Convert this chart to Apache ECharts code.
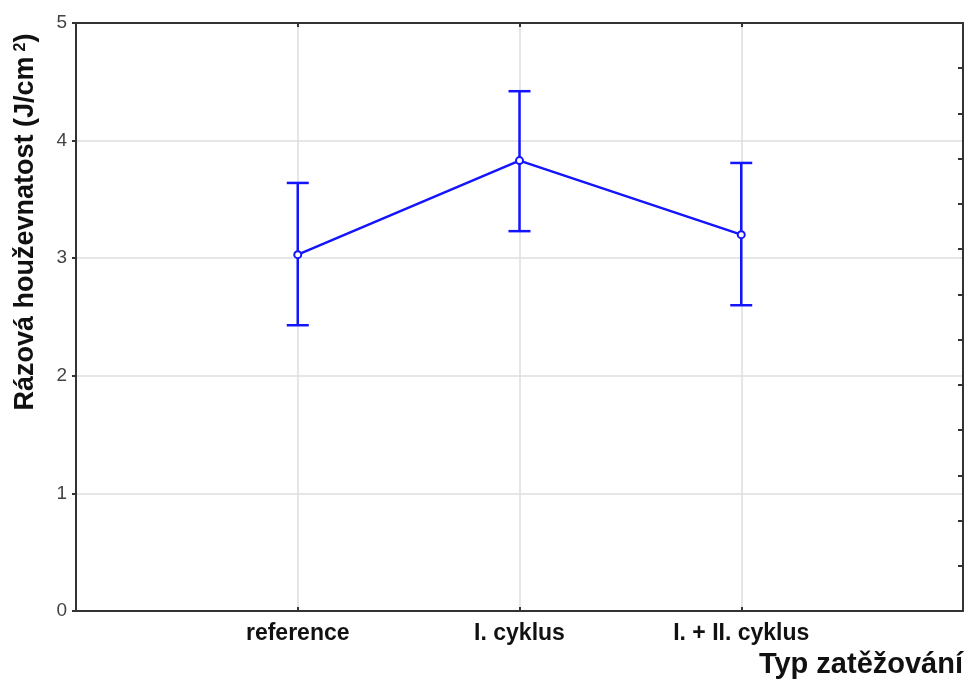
<!DOCTYPE html>
<html>
<head>
<meta charset="utf-8">
<script src="https://cdn.jsdelivr.net/npm/echarts@6/dist/echarts.min.js"></script>
<style>
html,body{margin:0;padding:0;background:#fff;}
#chart{width:967px;height:686px;}
</style>
</head>
<body>
<div id="chart"></div>
<script>
const categories = ['reference', 'I. cyklus', 'I. + II. cyklus'];
const means = [3.03, 3.83, 3.20];
const upper = [3.64, 4.42, 3.81];
const lower = [2.43, 3.23, 2.60];
const yTicks = [0, 1, 2, 3, 4, 5];

const BLUE = '#1414ff';
const FONT = 'Liberation Sans, Arial, sans-serif';

const lineData = means.map((m, i) => [i + 1, m]);
const errData = means.map((m, i) => [i + 1, lower[i], upper[i]]);

const chart = echarts.init(document.getElementById('chart'));
chart.setOption({
  animation: false,
  backgroundColor: '#fff',
  grid: { left: 76, right: 4, top: 23, bottom: 75, containLabel: false },
  xAxis: [{
    type: 'value', min: 0, max: categories.length + 1, interval: 1,
    axisLine: { show: true, lineStyle: { color: '#333', width: 2 } },
    axisTick: { show: true, inside: true, length: 4, lineStyle: { color: '#333', width: 2 } },
    axisLabel: {
      formatter: v => categories[v - 1] || '',
      color: '#111', fontWeight: 'bold', fontSize: 23, fontFamily: FONT, margin: 11
    },
    splitLine: { show: true, lineStyle: { color: '#dedede', width: 1.5 } }
  }, {
    type: 'value', position: 'top', min: 0, max: categories.length + 1, interval: 1,
    axisLine: { show: true, onZero: false, lineStyle: { color: '#333', width: 2 } },
    axisTick: { show: true, inside: true, length: 4, lineStyle: { color: '#333', width: 2 } },
    axisLabel: { show: false },
    splitLine: { show: false }
  }],
  yAxis: [{
    type: 'value', min: yTicks[0], max: yTicks[yTicks.length - 1], interval: 1,
    axisLine: { show: true, lineStyle: { color: '#333', width: 2 } },
    axisTick: { show: true, length: 4, lineStyle: { color: '#333', width: 2 } },
    axisLabel: { color: '#444', fontSize: 19, fontFamily: FONT, margin: 9 },
    splitLine: { show: true, lineStyle: { color: '#dedede', width: 1.5 } }
  }, {
    type: 'value', position: 'right', min: 0, max: 13, interval: 1,
    axisLine: { show: true, onZero: false, lineStyle: { color: '#333', width: 2 } },
    axisTick: { show: true, inside: true, length: 5, lineStyle: { color: '#333', width: 2 } },
    axisLabel: { show: false },
    splitLine: { show: false }
  }],
  graphic: [{
    type: 'text',
    x: 26, y: 222, rotation: Math.PI / 2,
    style: {
      text: 'Rázová houževnatost (J/cm{sup|2})',
      fontSize: 27, fontWeight: 'bold', fontFamily: FONT, fill: '#111',
      align: 'center', verticalAlign: 'middle',
      rich: { sup: { fontSize: 16, fontWeight: 'bold', fontFamily: FONT, fill: '#111', verticalAlign: 'top', padding: [0, 0, 11, 5] } }
    }
  }, {
    type: 'text',
    right: 4, top: 650,
    style: {
      text: 'Typ zatěžování',
      fontSize: 29, fontWeight: 'bold', fontFamily: FONT, fill: '#111'
    }
  }],
  series: [{
    type: 'line',
    data: lineData,
    symbol: 'emptyCircle', symbolSize: 7,
    lineStyle: { color: BLUE, width: 2.5 },
    itemStyle: { color: BLUE, borderColor: BLUE, borderWidth: 2 },
    z: 3
  }, {
    type: 'custom',
    data: errData,
    z: 2,
    renderItem: (params, api) => {
      const x = api.value(0);
      const lo = api.coord([x, api.value(1)]);
      const hi = api.coord([x, api.value(2)]);
      const hw = 11;
      const style = { stroke: BLUE, lineWidth: 2.5 };
      return {
        type: 'group',
        children: [
          { type: 'line', shape: { x1: lo[0], y1: lo[1], x2: hi[0], y2: hi[1] }, style },
          { type: 'line', shape: { x1: hi[0] - hw, y1: hi[1], x2: hi[0] + hw, y2: hi[1] }, style },
          { type: 'line', shape: { x1: lo[0] - hw, y1: lo[1], x2: lo[0] + hw, y2: lo[1] }, style }
        ]
      };
    }
  }]
});
</script>
</body>
</html>
